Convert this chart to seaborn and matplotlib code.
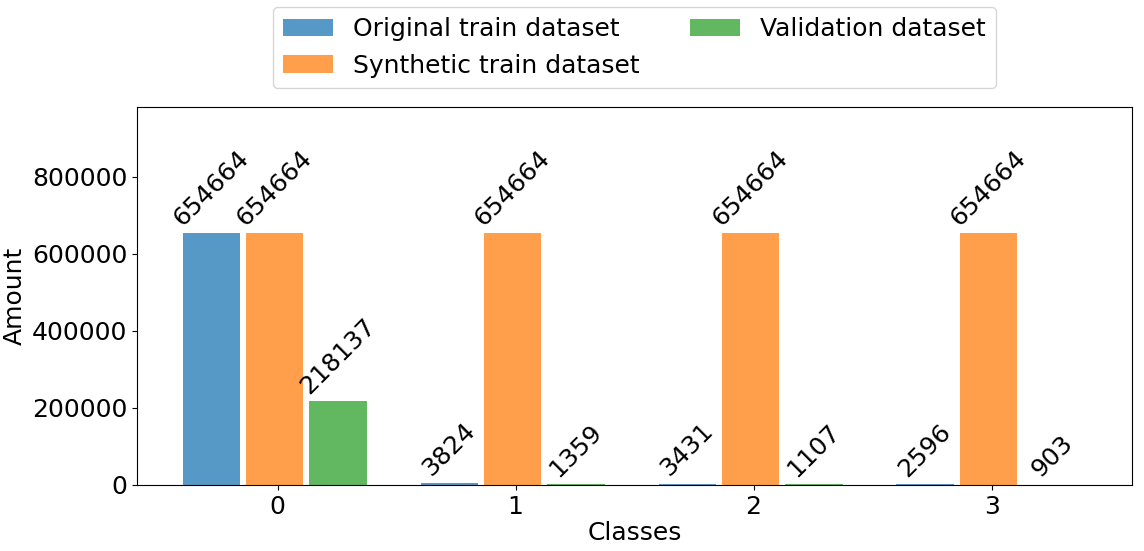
import pandas as pd
import matplotlib
matplotlib.use("Agg")
import matplotlib.pyplot as plt
import seaborn as sns

classes = ["0", "1", "2", "3"]
datasets = ["Original train dataset", "Synthetic train dataset", "Validation dataset"]
original = [654664, 3824, 3431, 2596]
synthetic = [654664, 654664, 654664, 654664]
validation = [218137, 1359, 1107, 903]


def main():
    rows = []
    for name, vals in zip(datasets, [original, synthetic, validation]):
        for c, v in zip(classes, vals):
            rows.append({"class": c, "amount": v, "dataset": name})
    df = pd.DataFrame(rows)

    sns.set_style("ticks")
    plt.rcParams["font.family"] = ["DejaVu Sans"]
    plt.rcParams["font.size"] = 18
    plt.rcParams["text.color"] = "black"
    plt.rcParams["axes.labelcolor"] = "black"
    plt.rcParams["xtick.color"] = "black"
    plt.rcParams["ytick.color"] = "black"

    fig, ax = plt.subplots(figsize=(11.44, 5.51), dpi=100)
    fig.subplots_adjust(left=0.12, right=0.9895, bottom=0.12, top=0.806)

    palette = ["#1f77b4", "#ff7f0e", "#2ca02c"]
    sns.barplot(data=df, x="class", y="amount", hue="dataset", order=classes,
                hue_order=datasets, palette=palette, width=0.8, gap=0.1,
                alpha=0.75, saturation=1, linewidth=0, ax=ax)

    # bars sit slightly left of the ticks in the original
    for cont in ax.containers:
        for b in cont:
            b.set_x(b.get_x() - 0.013)

    # value labels on top of bars
    for cont in ax.containers:
        ax.bar_label(cont, labels=[str(int(b.get_height())) for b in cont],
                     rotation=45, padding=2, fontsize=18, color="black")

    ax.set_xlim(-0.59, 3.59)
    ax.set_ylim(0, max(synthetic) * 1.5)
    ax.set_xlabel("Classes", fontsize=18, labelpad=2)
    ax.set_ylabel("Amount", fontsize=18)
    ax.tick_params(labelsize=18, colors="black")
    for s in ax.spines.values():
        s.set_color("black")
        s.set_linewidth(0.8)

    handles, labels = ax.get_legend_handles_labels()
    for h in handles:
        h.set_alpha(0.75)
        h.set_linewidth(0)
    ax.legend(handles, labels, loc="lower center", bbox_to_anchor=(0.5, 1.017),
              ncol=2, fontsize=18, frameon=True)

    fig.savefig("out.png", dpi=100)
    plt.close(fig)


if __name__ == "__main__":
    main()
